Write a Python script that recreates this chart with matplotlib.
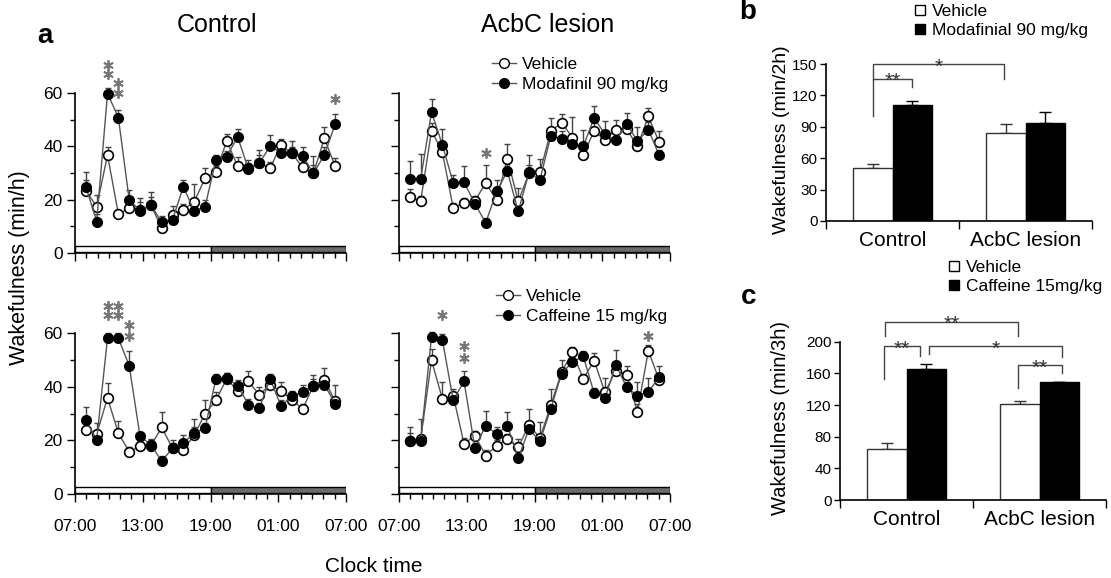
import numpy as np
import matplotlib
matplotlib.use('Agg')
import matplotlib.pyplot as plt
from matplotlib.patches import Rectangle
from matplotlib.lines import Line2D

plt.rcParams['font.family'] = ['Liberation Sans', 'DejaVu Sans']

# ---- panel a: hourly wakefulness (min/h), 24 recording bins ----
hours = np.arange(1, 25)
time_labels = ['07:00', '13:00', '19:00', '01:00', '07:00']

ctrl_mod_veh = [23.4, 17.4, 36.7, 14.7, 16.7, 16.0, 18.0, 9.3, 14.3, 16.2, 19.3, 28.0,
                30.5, 42.0, 32.6, 31.8, 33.6, 31.8, 40.5, 37.4, 32.1, 29.9, 43.0, 32.6]
ctrl_mod_veh_err = [4, 4.3, 3, 1.5, 2, 3, 3, 1.5, 3.5, 2, 6.6, 4,
                    2, 2.8, 3.5, 3, 3, 2.5, 2.4, 2.5, 3, 3, 4.4, 3]
ctrl_mod_drug = [24.9, 11.8, 59.8, 50.8, 19.9, 15.9, 18.1, 11.5, 12.5, 24.9, 15.6, 17.4,
                 34.9, 36.1, 43.6, 31.4, 33.6, 40.1, 37.6, 37.6, 36.4, 29.9, 36.7, 48.3]
ctrl_mod_drug_err = [5.5, 3, 2, 3, 3.7, 4.6, 4.6, 2.2, 2.5, 2.5, 3, 2.5,
                     2, 2, 3, 2.5, 5, 4, 2.5, 4.5, 3.5, 6.5, 3, 3.7]

les_mod_veh = [21.0, 19.4, 45.9, 37.8, 16.9, 18.8, 19.5, 26.3, 19.8, 35.4, 19.4, 30.0,
               30.3, 45.6, 48.9, 43.3, 36.7, 45.8, 42.3, 46.3, 46.5, 40.0, 51.2, 41.6]
les_mod_veh_err = [3, 2, 3, 3, 2, 2, 2, 6.8, 2, 5.5, 5, 3,
                   4.8, 5, 3.4, 7.7, 3, 3, 3, 3.7, 3, 3, 3.2, 4.2]
les_mod_drug = [27.8, 27.8, 52.8, 40.6, 26.3, 26.5, 18.5, 11.3, 23.1, 30.6, 15.6, 30.3,
                27.3, 44.0, 42.9, 41.0, 40.0, 50.7, 44.5, 42.3, 48.3, 42.0, 46.3, 36.7]
les_mod_drug_err = [6.6, 9.5, 4.8, 6, 3, 6, 2.5, 2, 4.4, 3, 2, 6.3,
                    3, 3, 3, 3, 6, 4.3, 5, 3, 4.3, 5.3, 3, 2]

ctrl_caf_veh = [23.7, 22.4, 35.8, 22.7, 15.7, 17.8, 18.0, 24.8, 17.0, 16.5, 22.0, 29.9,
                34.9, 43.0, 38.3, 42.0, 37.0, 40.7, 38.3, 35.2, 31.7, 40.4, 42.6, 34.5]
ctrl_caf_veh_err = [3, 4, 5.4, 4.4, 2, 2, 2, 5.6, 2, 2, 3, 5.3,
                    3, 2, 3, 4, 2.9, 2.9, 3.3, 2, 2, 2.5, 4.4, 6.2]
ctrl_caf_drug = [27.5, 20.2, 58.1, 58.1, 47.8, 21.5, 18.4, 12.2, 17.1, 19.0, 22.7, 24.6,
                 42.9, 43.2, 40.4, 33.3, 32.0, 42.9, 32.9, 36.4, 37.9, 40.4, 40.7, 33.7]
ctrl_caf_drug_err = [5, 2, 2, 2, 5.4, 1.5, 2, 2, 3, 3, 5.2, 2,
                     2, 2, 2, 2, 2, 2, 2, 2, 2.8, 4, 3, 2]

les_caf_veh = [19.6, 20.5, 49.8, 35.5, 36.7, 18.7, 21.8, 14.3, 18.0, 20.5, 17.4, 25.8,
               20.8, 33.0, 45.5, 52.8, 42.9, 49.7, 37.9, 46.0, 44.3, 30.7, 53.4, 42.5]
les_caf_veh_err = [3, 7.5, 4.4, 6.2, 2.5, 2, 1.6, 2, 2, 2, 3, 6,
                   6.2, 6, 4.3, 2, 2, 3, 5.2, 3, 3.5, 3, 2, 2]
les_caf_drug = [19.6, 19.9, 58.5, 57.5, 34.9, 42.0, 17.1, 25.5, 22.4, 25.5, 13.3, 24.3,
                19.6, 31.8, 44.8, 49.3, 51.3, 37.6, 35.7, 48.1, 39.8, 36.6, 38.1, 43.5]
les_caf_drug_err = [5.3, 2, 2, 2, 2, 3.7, 2, 5.5, 2.5, 4.9, 2, 2,
                    2, 2, 2, 2, 2, 2, 2, 5.7, 2, 5, 5, 4.3]

# significance marks: (bin, height)
ctrl_mod_stars = [(3, 67), (3, 70.5), (4, 60), (4, 63.7), (24, 57.7)]
les_mod_stars = [(8, 37.5)]
ctrl_caf_stars = [(3, 66.7), (3, 70), (4, 66.7), (4, 70), (5, 59), (5, 63)]
les_caf_stars = [(4, 66.7), (6, 50.6), (6, 55), (23, 58.9)]

# ---- panel b / c: summary bars ----
groups = ['Control', 'AcbC lesion']
b_veh = [51, 84]
b_veh_err = [3, 8.7]
b_drug = [110.5, 94]
b_drug_err = [4.5, 10.5]
c_veh = [64.4, 121.3]
c_veh_err = [7.2, 3.7]
c_drug = [165.5, 148.6]
c_drug_err = [6.3, 0.6]

W, H = 1111, 578
fig = plt.figure(figsize=(W / 100, H / 100), dpi=100)


def line_panel(rect, veh, veh_err, drug, drug_err, stars, xlabels, ylabels):
    ax = fig.add_axes(rect)
    zero = np.zeros(len(hours))
    ax.errorbar(hours, veh, yerr=[zero, veh_err], fmt='none', ecolor='#444',
                elinewidth=1, capsize=2.2, capthick=1, clip_on=False, zorder=2)
    ax.errorbar(hours, drug, yerr=[zero, drug_err], fmt='none', ecolor='#444',
                elinewidth=1, capsize=2.2, capthick=1, clip_on=False, zorder=2)
    ax.plot(hours, veh, '-o', color='#555', lw=1, mfc='white', mec='black',
            mew=1.2, ms=7, clip_on=False, zorder=3)
    ax.plot(hours, drug, '-o', color='#555', lw=1, mfc='black', mec='black',
            ms=7, clip_on=False, zorder=4)
    for b, h in stars:
        ax.plot(b, h, marker=(6, 2, 0), ms=7.5, mew=1.3, color='#777',
                clip_on=False, zorder=5)
    # light / dark bar
    ax.add_patch(Rectangle((0, 0.2), 12.5, 2.5, fc='white', ec='black', lw=1))
    ax.add_patch(Rectangle((12.5, 0.2), 12.5, 2.5, fc='#6b6b6b', ec='black', lw=1))
    ax.set_xlim(0, 25)
    ax.set_ylim(0, 60)
    ax.set_xticks(np.linspace(0, 25, 5))
    ax.set_xticks(np.linspace(0, 25, 25), minor=True)
    ax.set_yticks([0, 20, 40, 60])
    ax.set_yticks([10, 30, 50], minor=True)
    ax.set_xticklabels(time_labels if xlabels else [])
    ax.set_yticklabels(['0', '20', '40', '60'] if ylabels else [])
    ax.tick_params(which='major', length=6, width=1, labelsize=12.5, pad=12)
    ax.tick_params(axis='y', which='major', pad=3)
    ax.tick_params(which='minor', length=3.5, width=1)
    for s in ['top', 'right']:
        ax.spines[s].set_visible(False)
    for s in ['left', 'bottom']:
        ax.spines[s].set_linewidth(1.2)
    return ax


ax_tl = line_panel([75 / W, 1 - 253 / H, 271 / W, 160 / H], ctrl_mod_veh, ctrl_mod_veh_err,
                   ctrl_mod_drug, ctrl_mod_drug_err, ctrl_mod_stars, False, True)
ax_tr = line_panel([399 / W, 1 - 253 / H, 271 / W, 160 / H], les_mod_veh, les_mod_veh_err,
                   les_mod_drug, les_mod_drug_err, les_mod_stars, False, False)
ax_bl = line_panel([75 / W, 1 - 494 / H, 271 / W, 161 / H], ctrl_caf_veh, ctrl_caf_veh_err,
                   ctrl_caf_drug, ctrl_caf_drug_err, ctrl_caf_stars, True, True)
ax_br = line_panel([399 / W, 1 - 494 / H, 271 / W, 161 / H], les_caf_veh, les_caf_veh_err,
                   les_caf_drug, les_caf_drug_err, les_caf_stars, True, False)


def line_legend(ax, drug_label, x, y):
    h = [Line2D([], [], color='#555', lw=1, marker='o', ms=7, mfc='white', mec='black'),
         Line2D([], [], color='#555', lw=1, marker='o', ms=7, mfc='black', mec='black')]
    ax.legend(h, ['Vehicle', drug_label], loc='upper left', bbox_to_anchor=(x / W, 1 - y / H),
              bbox_transform=fig.transFigure, frameon=False, fontsize=12.5,
              handlelength=1.4, handletextpad=0.3, labelspacing=0.25, borderpad=0,
              borderaxespad=0)


line_legend(ax_tr, 'Modafinil 90 mg/kg', 492, 57)
line_legend(ax_br, 'Caffeine 15 mg/kg', 496, 289)

fig.text(217 / W, 1 - 25 / H, 'Control', ha='center', va='center', fontsize=18)
fig.text(548 / W, 1 - 25 / H, 'AcbC lesion', ha='center', va='center', fontsize=18)
fig.text(45 / W, 1 - 36 / H, 'a', ha='center', va='center', fontsize=20, fontweight='bold')
fig.text(20 / W, 1 - 268 / H, 'Wakefulness (min/h)', rotation=90, ha='center',
         va='center', fontsize=15.5)
fig.text(374 / W, 1 - 566 / H, 'Clock time', ha='center', va='center', fontsize=15)


def bar_panel(rect, veh, veh_err, drug, drug_err, ymax, ystep):
    ax = fig.add_axes(rect)
    x = np.arange(len(groups))
    ax.bar(x - 0.15, veh, 0.3, color='white', edgecolor='#333', lw=1, zorder=2)
    ax.bar(x + 0.15, drug, 0.3, color='black', edgecolor='black', lw=1, zorder=2)
    ax.errorbar(x - 0.15, veh, yerr=[np.zeros(len(x)), veh_err], fmt='none', ecolor='#333',
                elinewidth=1, capsize=4, capthick=1, zorder=1)
    ax.errorbar(x + 0.15, drug, yerr=[np.zeros(len(x)), drug_err], fmt='none', ecolor='black',
                elinewidth=1, capsize=4, capthick=1, zorder=1)
    ax.set_xlim(-0.5, 1.5)
    ax.set_ylim(0, ymax)
    ax.set_yticks(np.arange(0, ymax + 1, ystep))
    ax.set_xticks([-0.5, 0.5, 1.5])
    ax.set_xticklabels([])
    ax.set_xticks(x, minor=True)
    ax.set_xticklabels(groups, minor=True)
    ax.tick_params(axis='x', which='minor', length=0, labelsize=15, pad=7)
    ax.tick_params(axis='x', which='major', length=6, width=1)
    ax.tick_params(axis='y', length=4, width=1, labelsize=11, pad=2)
    for s in ['top', 'right']:
        ax.spines[s].set_visible(False)
    for s in ['left', 'bottom']:
        ax.spines[s].set_linewidth(1.2)
    return ax


def bracket(ax, x1, x2, y, y1, y2, label):
    ax.plot([x1, x1, x2, x2], [y1, y, y, y2], color='#444', lw=1, clip_on=False)
    ax.annotate(label, ((x1 + x2) / 2, y), xytext=(0, -6), textcoords='offset points',
                ha='center', va='baseline', fontsize=15, color='#333',
                annotation_clip=False)


ax_b = bar_panel([826 / W, 1 - 221 / H, 266 / W, 157 / H], b_veh, b_veh_err,
                 b_drug, b_drug_err, 150, 30)
bracket(ax_b, -0.15, 0.15, 136, 100, 128, '**')
bracket(ax_b, -0.15, 0.84, 150, 136, 136, '*')

ax_c = bar_panel([840 / W, 1 - 500 / H, 266 / W, 158.3 / H], c_veh, c_veh_err,
                 c_drug, c_drug_err, 200, 40)
bracket(ax_c, -0.16, 0.84, 225, 207, 207, '**')
bracket(ax_c, -0.17, 0.10, 194.5, 153, 182, '**')
bracket(ax_c, 0.17, 1.17, 194.5, 184, 181, '*')
bracket(ax_c, 0.84, 1.17, 170.5, 141, 160, '**')


def bar_legend(ax, drug_label, x, y):
    h = [Line2D([], [], ls='none', marker='s', ms=7, mfc='white', mec='black', mew=1),
         Line2D([], [], ls='none', marker='s', ms=7, mfc='black', mec='black')]
    ax.legend(h, ['Vehicle', drug_label], loc='upper left', bbox_to_anchor=(x / W, 1 - y / H),
              bbox_transform=fig.transFigure, frameon=False, fontsize=12.5,
              handlelength=0.7, handletextpad=0.35, labelspacing=0.2, borderpad=0,
              borderaxespad=0)


bar_legend(ax_b, 'Modafinial 90 mg/kg', 914, 4)
bar_legend(ax_c, 'Caffeine 15mg/kg', 948, 260)

fig.text(748 / W, 1 - 12 / H, 'b', ha='center', va='center', fontsize=20, fontweight='bold')
fig.text(749 / W, 1 - 297 / H, 'c', ha='center', va='center', fontsize=20, fontweight='bold')
fig.text(781 / W, 1 - 140 / H, 'Wakefulness (min/2h)', rotation=90, ha='center',
         va='center', fontsize=14)
fig.text(781 / W, 1 - 418 / H, 'Wakefulness (min/3h)', rotation=90, ha='center',
         va='center', fontsize=14.5)

fig.savefig('out.png', dpi=100)
